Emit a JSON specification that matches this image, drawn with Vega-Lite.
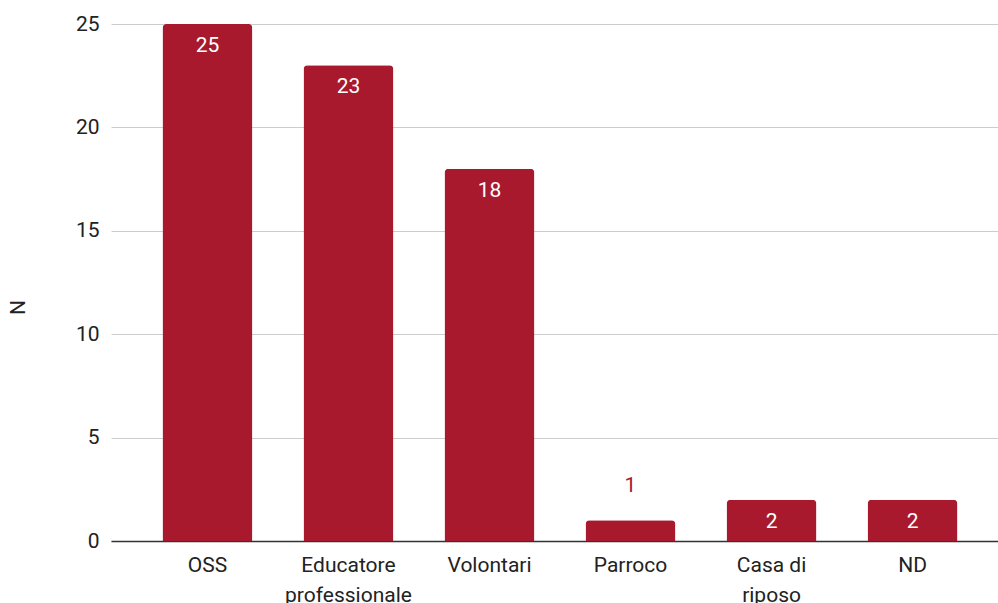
{
  "$schema": "https://vega.github.io/schema/vega-lite/v6.json",
  "width": 887,
  "height": 517,
  "autosize": {"type": "none"},
  "padding": {"left": 111, "top": 24, "right": 0, "bottom": 62},
  "background": "white",
  "config": {"view": {"stroke": null}, "font": "Roboto"},
  "data": {"values": [
    {"cat": "OSS", "N": 25},
    {"cat": "Educatore professionale", "N": 23},
    {"cat": "Volontari", "N": 18},
    {"cat": "Parroco", "N": 1},
    {"cat": "Casa di riposo", "N": 2},
    {"cat": "ND", "N": 2}
  ]},
  "encoding": {
    "x": {"field": "cat", "type": "nominal", "sort": null,
      "scale": {"paddingInner": 0.362, "paddingOuter": 0.326, "align": 0.56},
      "axis": {"title": null, "labelAngle": 0, "labelFontSize": 21, "labelColor": "#222222", "labelPadding": 13,
        "labelLineHeight": 30, "domainColor": "#333333", "domainWidth": 1.5, "ticks": false,
        "labelExpr": "datum.label == 'Educatore professionale' ? ['Educatore','professionale'] : datum.label == 'Casa di riposo' ? ['Casa di','riposo'] : datum.label"}},
    "y": {"field": "N", "type": "quantitative",
      "scale": {"domain": [0, 25], "nice": false},
      "axis": {"values": [0, 5, 10, 15, 20, 25], "title": "N", "titleFontSize": 21, "titleFontWeight": "normal", "titleColor": "#222222",
        "titleX": -93, "titleY": 283, "titleAlign": "center", "titleBaseline": "middle", "titleAngle": -90,
        "labelFontSize": 21, "labelColor": "#222222", "labelPadding": 12, "domain": false, "ticks": false,
        "gridColor": "#cccccc", "gridWidth": 1}}
  },
  "layer": [
    {"mark": {"type": "bar", "color": "#a9192d", "cornerRadiusTopLeft": 4, "cornerRadiusTopRight": 4}},
    {"transform": [{"filter": "datum.N >= 2"}],
      "mark": {"type": "text", "color": "white", "fontSize": 21, "dy": 22, "baseline": "middle"},
      "encoding": {"text": {"field": "N"}}},
    {"transform": [{"filter": "datum.N < 2"}],
      "mark": {"type": "text", "color": "#a9192d", "fontSize": 21, "dy": -34, "baseline": "middle"},
      "encoding": {"text": {"field": "N"}}}
  ]
}
